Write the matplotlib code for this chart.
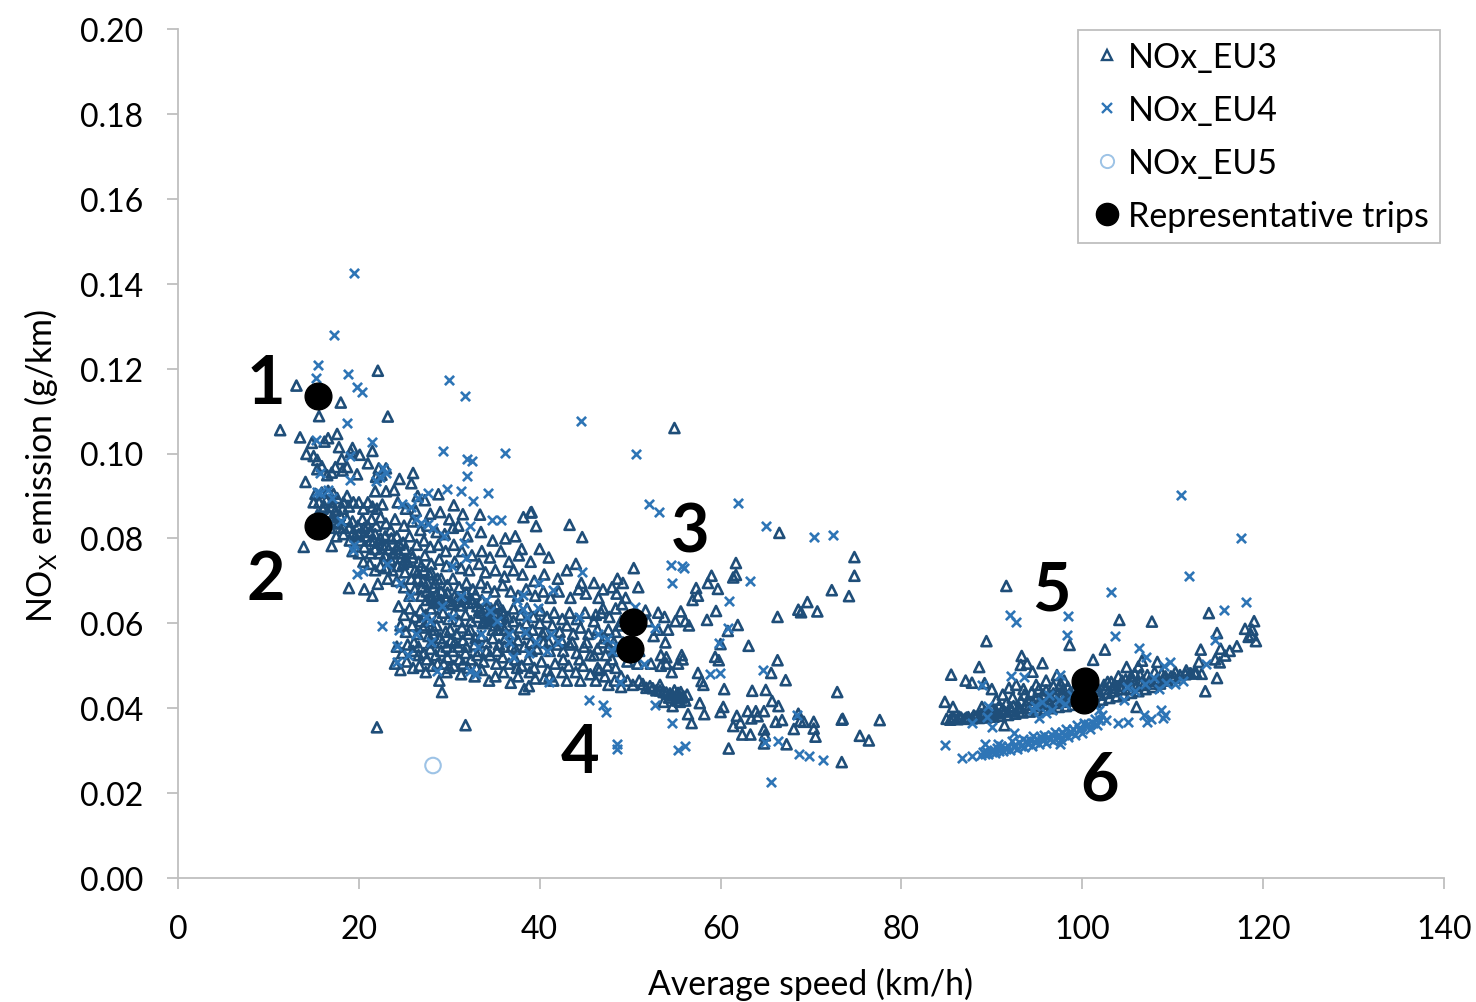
import numpy as np
import matplotlib
matplotlib.use('Agg')
import matplotlib.pyplot as plt
from matplotlib.lines import Line2D

# speed (km/h), NOx (g/km), split by region
eu3_low = [(13.1,.116),(22.1,.1195),(18.0,.112),(15.6,.1088),(23.2,.1087),(11.3,.1055),(13.5,.1038),(17.6,.1046),(16.6,.1036),(16.2,.1028),
    (14.8,.1025),(17.8,.1015),(19.3,.1013),(19.1,.1003),(20.1,.0997),(21.5,.1006),(14.2,.0999),(15.0,.0994),(15.4,.0985),(18.1,.0987),(21.0,.0977),
    (15.4,.0963),(15.9,.097),(17.4,.0968),(18.7,.0968),(18.2,.096),(19.8,.0951),(16.5,.0949),(17.0,.0955),(14.1,.0933),(22.2,.0965),(23.0,.0965),
    (22.5,.095),(21.9,.0945),(26.0,.0954),(24.5,.094),(25.8,.093),(23.9,.0914),(23.0,.0911),(21.8,.0911),(15.2,.0905),(15.9,.0908),(16.6,.0912),(17.2,.0905),
    (15.0,.0885),(15.6,.0885),(16.0,.087),(16.4,.089),(17.0,.0885),(17.6,.0895),(18.3,.0885),(18.7,.09),(18.9,.0875),(19.4,.0885),(20.0,.0885),
    (20.5,.087),(21.0,.0885),(21.5,.0875),(22.0,.087),(22.6,.088),(15.4,.0855),(16.1,.085),(16.6,.086),(17.2,.085),(17.7,.0835),(18.3,.0825),(18.7,.0845),
    (19.3,.084),(19.9,.083),(20.4,.0845),(21.0,.083),(21.4,.0845),(21.9,.083),(22.4,.085),(23.0,.0835),(23.5,.082),(16.8,.0825),(17.5,.0805),(18.3,.081),
    (19.0,.0795),(19.6,.0805),(20.2,.0795),(20.8,.0805),(21.3,.0795),(21.8,.081),(22.4,.08),(23.0,.0785),(23.6,.08),(13.9,.078),(17.0,.0782),(19.3,.077),
    (20.0,.0765),(20.6,.078),(21.3,.0765),(21.8,.0775),(22.3,.0765),(22.9,.076),(23.5,.075),(24.1,.0775),(20.5,.0745),(21.2,.074),(21.8,.0725),(22.4,.0735),
    (23.0,.073),(23.7,.0725),(24.3,.0735),(24.9,.074),(18.9,.0683),(20.6,.068),(21.5,.0665),(22.1,.0693),(23.2,.0705),(24.2,.07),(22.0,.0355),(31.8,.036)]

eu3_mid = [(26.5,.09),(27.3,.089),(28.8,.0904),(30.5,.0878),(31.5,.0857),(33.4,.0856),(38.2,.085),(39.0,.0861),(39.6,.0829),(24.3,.0885),(25.2,.087),(26.3,.0865),
    (27.9,.0858),(29.0,.0862),(30.0,.0845),(31.0,.083),(24.0,.0845),(25.0,.083),(25.9,.084),(26.8,.082),(27.6,.083),(28.6,.0815),(29.5,.081),(30.4,.0825),(32.0,.0805),
    (33.5,.0815),(34.8,.0795),(36.2,.08),(37.3,.0805),(38.0,.0775),(40.0,.0775),(24.2,.0805),(24.9,.079),(25.6,.0805),(26.4,.0785),(27.2,.0795),(27.9,.078),(28.8,.0785),
    (29.6,.077),(30.5,.0785),(31.4,.077),(32.5,.076),(33.6,.077),(34.5,.0755),(35.7,.077),(36.6,.0745),(37.7,.076),(39.0,.0745),(41.0,.0755),(24.4,.0765),(25.1,.075),(25.8,.0765),
    (26.6,.0745),(27.3,.076),(28.0,.074),(28.9,.075),(29.7,.0735),(30.6,.0745),(31.3,.073),(32.2,.0725),(33.3,.074),(34.0,.072),(35.1,.0725),(36.1,.071),(37.1,.0725),(38.1,.0715),
    (39.4,.07),(40.5,.0715),(42.0,.0705),(43.0,.0725),(44.0,.074),(44.6,.0695),(25.1,.072),(25.8,.0705),(26.5,.072),(27.1,.07),(27.8,.0715),(28.4,.0695),(29.1,.0705),(29.8,.069),
    (30.4,.0705),(31.1,.0685),(31.9,.0695),(32.6,.068),(33.5,.0695),(34.2,.0685),(35.0,.0675),(35.9,.069),(36.8,.0675),(37.6,.0665),(38.5,.068),(39.5,.0665),(40.4,.0675),(41.2,.066),
    (42.1,.0675),(43.4,.066),(44.3,.068),(45.1,.067),(46.0,.0695),(47.0,.068),(48.6,.0705),(49.2,.0695),(49.5,.066),(25.0,.0685),(25.6,.0665),(26.2,.068),(26.9,.0665),(27.5,.0675),(28.1,.066),
    (28.6,.0668),(29.1,.0655),(29.6,.0662),(30.1,.0652),(30.6,.0664),(31.1,.0652),(31.6,.066),(32.1,.0648),(32.6,.065),(33.1,.064),(33.6,.0655),(34.1,.0645),(34.6,.0635),(35.0,.0625),
    (35.4,.0645),(35.9,.063),(36.5,.0615),(37.1,.0635),(37.9,.062),(38.6,.0635),(39.3,.0615),(40.1,.063),(40.8,.0615),(41.6,.0625),(42.5,.061),(43.3,.0625),(44.1,.061),(45.0,.0625),
    (46.0,.0605),(46.8,.0625),(47.7,.0615),(48.4,.0635),(49.0,.0605),(50.5,.0625),(51.7,.063),(53.1,.0625),(24.4,.064),(25.0,.062),(25.6,.0635),(26.2,.0615),(26.8,.063),(27.4,.062),(28.0,.0635),
    (28.7,.0615),(29.3,.0625),(29.9,.061),(30.5,.0625),(31.1,.0605),(31.8,.062),(32.4,.0605),(33.1,.0615),(33.7,.06),(34.4,.061),(35.0,.0595),(35.7,.061),(36.4,.0595),(37.1,.0605),(37.8,.059),
    (38.5,.06),(39.2,.0585),(40.0,.06),(40.6,.058),(41.4,.0595),(42.2,.058),(43.0,.0595),(43.7,.0575),(44.5,.059),(45.4,.0575),(46.4,.0585),(47.2,.0565),(48.4,.058),(52.0,.0605),(53.8,.0615),
    (24.6,.0595),(25.2,.058),(25.9,.0595),(26.5,.0575),(27.1,.059),(27.7,.057),(28.3,.0585),(29.0,.0565),(29.6,.058),(30.2,.056),(30.8,.0575),(31.5,.056),(32.1,.0575),(32.8,.055),(33.5,.057),
    (34.1,.0555),(34.8,.0565),(35.5,.055),(36.2,.0565),(36.9,.0545),(37.6,.056),(38.3,.0545),(39.0,.0555),(39.7,.054),(40.4,.0555),(41.1,.0535),(41.9,.055),(42.6,.0535),(43.3,.055),(44.1,.053),
    (44.9,.0545),(45.6,.0525),(46.4,.054),(47.3,.0525),(48.0,.0515),(24.2,.0545),(24.8,.053),(25.4,.055),(26.0,.0535),(26.6,.0545),(27.2,.053),(27.9,.054),(28.5,.0525),(29.1,.0535),(29.8,.052),
    (30.4,.0535),(31.1,.0515),(31.8,.053),(32.4,.0515),(33.1,.0525),(33.8,.051),(34.5,.0525),(35.2,.0505),(35.9,.052),(36.6,.0505),(37.3,.0515),(38.0,.05),(38.7,.0515),(39.4,.0495),(40.2,.051),
    (40.9,.049),(41.7,.0505),(42.5,.0485),(43.2,.05),(44.0,.0485),(44.8,.05),(45.6,.048),(46.4,.0495),(47.2,.0475),(24.0,.0505),(24.6,.049),(25.3,.051),(26.0,.0495),(26.7,.05),(27.4,.0485),(28.1,.05),
    (28.9,.0465),(29.2,.0438),(29.7,.0485),(30.5,.05),(31.3,.048),(32.1,.0495),(32.8,.0475),(33.6,.049),(34.4,.0465),(35.1,.0475),(36.0,.0485),(36.8,.046),(37.6,.0475),(38.3,.0445),(38.8,.0452),
    (39.5,.047),(40.5,.047),(41.5,.0465),(43.0,.0465),(44.5,.0465),(46.2,.0465)]

# the darkest patches of the cloud, where triangles pile up
eu3_dense = [(17.0,.0875),(17.4,.0865),(17.9,.0855),(18.2,.087),(16.2,.0875),(16.7,.0838),(17.3,.0838),(18.9,.0825),(19.4,.0815),(20.0,.081),(20.6,.0825),(21.2,.0815),(21.7,.0795),(22.1,.079),(22.6,.0785),
    (22.9,.0805),(23.3,.0775),(23.8,.0765),(24.5,.0785),(24.7,.0755),(25.1,.0775),(25.4,.0745),(25.9,.0755),(26.2,.0725),(26.5,.0705),(26.9,.0735),(27.2,.0725),(27.6,.0695),(28.0,.072),(28.3,.0685),
    (28.7,.0705),(29.1,.0675),(27.0,.0685),(27.5,.0655),(27.9,.0665),(28.4,.0648),(28.8,.0652),(29.3,.0645),(29.8,.0672),(30.3,.0645),(30.8,.0655),(31.4,.0642),(31.9,.0672),(32.3,.0658),(32.9,.0668),
    (33.3,.063),(33.9,.0635),(34.3,.062),(34.7,.0615),(35.2,.064),(35.6,.0605),(36.0,.062),(33.6,.0625),(34.0,.0605),(34.9,.0608),(35.4,.0585),(26.8,.0605),(27.3,.0595),(27.7,.0605),(28.2,.0575),(28.6,.0595),
    (29.2,.0555),(29.7,.0545),(30.1,.0585),(30.6,.0555),(31.0,.0545),(31.4,.059),(31.9,.0545),(32.3,.0585),(32.9,.0565),(33.3,.0535),(26.1,.0555),(26.6,.0525),(27.5,.0515),(28.0,.0555),(28.7,.0505),(29.4,.0505),
    (30.0,.0495),(31.5,.0505),(33.0,.0495),(34.1,.0535),(34.8,.0585),(35.3,.0535),(36.1,.0545),(37.3,.054),(38.7,.0575),(39.1,.0535),(40.3,.0575),(41.0,.0555),(42.4,.056),(43.6,.0555),(37.0,.0575),(36.1,.0585),
    (37.5,.0495),(38.9,.0485),(41.1,.0475),(42.6,.0515),(44.4,.0515),(45.2,.0555),(46.0,.0525),(46.9,.0555),(47.7,.0545),(48.2,.0555),(48.7,.0535),(49.2,.0555),(47.6,.0585),(48.9,.0595),(46.2,.062)]

eu3_streak = [(47.6,.0455),(48.3,.0465),(49.0,.045),(49.7,.0465),(50.3,.0455),(51.0,.0465),(51.4,.0457),(51.8,.0448),(52.2,.0452),(52.5,.0447),(52.9,.0442),(53.3,.0442),(53.7,.0438),(54.0,.0437),
    (54.4,.0435),(54.7,.043),(55.1,.0431),(55.4,.0425),(55.6,.0438),(55.9,.0428),(56.1,.0418),(56.3,.0432),(55.5,.0415),(54.7,.0405),(53.7,.0415),(49.7,.051),(50.8,.0505),(52.3,.0505),(53.4,.05),
    (54.0,.0505),(54.6,.0485),(55.3,.0505),(49.0,.0475),(47.5,.05),(46.6,.049),(48.4,.0495),(51.0,.0535),(53.4,.0525),(54.0,.052),(55.8,.0515),(54.9,.0442),(55.3,.0436),(55.7,.0425),(55.2,.0418),(54.3,.0425),(53.3,.0455)]

eu3_sparse = [(54.9,.106),(66.5,.0813),(43.3,.0832),(44.7,.0803),(39.1,.0862),(74.8,.0756),(74.8,.0712),(72.3,.0678),(74.2,.0664),(69.6,.065),(68.6,.0632),(68.9,.0626),(70.7,.0628),(66.3,.0615),
    (61.7,.0742),(61.7,.0714),(61.4,.0708),(59.0,.0712),(58.6,.0695),(59.7,.0681),(57.3,.0683),(57.5,.0665),(56.9,.0655),(59.5,.0629),(58.5,.0608),(61.9,.0596),(60.8,.0582),(63.1,.0547),
    (60.0,.0551),(66.3,.0513),(59.4,.0521),(59.8,.0513),(65.6,.0483),(67.2,.0466),(63.5,.0441),(65.0,.0443),(72.9,.0438),(60.4,.0445),(57.9,.0464),(58.1,.0455),(57.5,.0483),(65.7,.0417),(66.4,.0405),
    (60.3,.0403),(57.7,.0412),(60.0,.0391),(58.2,.0386),(56.4,.0386),(56.8,.0365),(61.8,.0382),(61.4,.0358),(62.2,.0366),(63.0,.0393),(63.9,.0393),(64.8,.0393),(63.4,.0376),(64.1,.0381),(66.1,.0368),
    (66.8,.0372),(68.6,.0387),(68.8,.037),(69.2,.0368),(70.3,.0368),(68.1,.0351),(70.3,.0352),(73.4,.0373),(73.5,.0375),(77.6,.0372),(64.8,.035),(62.4,.0338),(63.3,.0338),(70.5,.0333),(64.9,.0336),
    (64.8,.0317),(67.3,.0315),(75.4,.0335),(76.4,.0324),(60.9,.0305),(73.4,.0273),(56.5,.0595),(55.6,.0628),(55.0,.0605),(54.2,.0585),(56.1,.0605),(53.1,.0585),(53.9,.0555),(55.7,.0525),(50.9,.0605),
    (52.6,.057),(50.9,.0685),(50.4,.073),(48.0,.0685),(48.5,.067),(47.0,.0635),(46.5,.066),(49.1,.0645)]

eu3_high = [(91.6,.0688),(89.4,.0558),(98.6,.0549),(104.1,.0608),(107.7,.0604),(114.0,.0624),(102.5,.0538),(101.2,.0514),(93.3,.0523),(93.9,.0505),(93.2,.0502),(95.6,.0506),(94.5,.0486),
    (88.6,.0497),(85.5,.0479),(87.1,.0465),(87.8,.046),(84.8,.0415),(85.7,.0403),(88.9,.0403),(89.2,.0459),(90.0,.0445),(91.4,.036),(106.0,.0403),(113.6,.044),(114.9,.0471),(113.1,.0538),(114.9,.0577),
    (115.3,.054),(117.1,.0546),(118.0,.0587),(119.0,.0605),(118.8,.0585),(119.2,.0558),(118.4,.0568),(118.7,.0572),(112.9,.0509),(113.2,.0481),(116.3,.0535),(115.8,.0524),(115.2,.0508),(114.7,.0515),
    (108.3,.0509),(110.3,.0485),(111.5,.0489),(111.9,.0482),(112.4,.0485),(106.6,.0512),(106.2,.0498),(104.9,.0497),(105.4,.0475),(105.8,.0482),(97.2,.0478),(98.0,.0465),(96.0,.0465),(94.9,.0455),
    (92.7,.0455),(91.9,.0448),(93.5,.0445),(91.2,.0432),(92.3,.0425),(90.5,.042),(96.8,.0452),(97.9,.0445),(99.0,.044),(102.8,.0462),(103.6,.0455),(104.4,.0465),(101.4,.0445),
    # dense band
    (85.0,.0375),(85.4,.0373),(85.8,.0378),(86.2,.0374),(86.6,.0378),(87.0,.0375),(87.4,.0379),(87.8,.0376),(88.2,.038),(88.6,.0377),(89.0,.0382),(89.4,.0378),(89.8,.0384),(90.2,.038),(90.6,.0388),
    (91.0,.0382),(91.4,.0392),(91.8,.0384),(92.2,.0396),(92.6,.0387),(93.0,.0402),(93.4,.039),(93.8,.0408),(94.2,.0392),(94.6,.0412),(95.0,.0395),(95.4,.0418),(95.8,.0398),(96.2,.0422),(96.6,.04),
    (97.0,.0428),(97.4,.0403),(97.8,.0432),(98.2,.0405),(98.6,.0435),(99.0,.0408),(99.4,.0438),(99.8,.041),(100.2,.0432),(100.6,.0412),(101.0,.0436),(101.4,.0415),(101.8,.044),(102.2,.042),(102.6,.0445),
    (103.0,.0424),(103.4,.0448),(103.8,.0428),(104.2,.0452),(104.6,.0432),(105.0,.0455),(105.4,.0436),(105.8,.0458),(106.2,.044),(106.6,.0462),(107.0,.0445),(107.4,.0465),(107.8,.045),(108.2,.0468),
    (108.6,.0458),(109.0,.0472),(109.4,.0465),(109.8,.0475),(110.2,.0472),(110.8,.0478),(111.4,.048),(112.0,.0482),(112.6,.0483),
    # wedge over the band
    (89.2,.0392),(90.0,.0398),(90.8,.0405),(91.6,.0412),(92.4,.0405),(93.2,.0418),(93.6,.0432),(94.0,.042),(94.4,.0438),(94.8,.0425),(95.2,.0445),(95.6,.0432),(96.0,.0442),(96.4,.0412),(96.8,.0435),(97.2,.0418),
    (97.6,.0458),(98.0,.0425),(98.4,.045),(98.8,.0422),(99.2,.0448),(99.6,.0425),(100.0,.0445),(100.4,.042),(100.8,.0448),(101.2,.0428),(101.6,.0452),(102.0,.0432),(102.4,.0455),(102.8,.0436),(103.2,.0462),
    (103.6,.044),(104.0,.0475),(104.4,.0445),(104.8,.0468),(105.2,.0445),(105.6,.0468),(106.0,.0452),(106.4,.0478),(106.8,.0455),(107.2,.0478),(107.6,.0458),(108.0,.0485),(108.4,.0465),(108.8,.0482),(109.2,.0475),
    (93.0,.0392),(94.0,.04),(95.0,.0405),(96.0,.041),(97.0,.0412),(98.0,.0415),(99.0,.0418),(85.6,.0378),(86.4,.038),(87.2,.0378),(88.0,.0383),(88.8,.0386),(89.6,.039),(90.4,.0394),(91.2,.0398),(92.0,.0402)]

eu4_low = [(15.5,.1208),(15.3,.1178),(18.8,.1187),(19.8,.1156),(20.3,.1146),(30.0,.1174),(31.7,.1135),(18.7,.1072),(21.5,.1027),(29.3,.1007),(36.2,.1001),(32.0,.0987),(32.5,.0983),(32.0,.0947),
    (29.7,.0916),(31.3,.0911),(34.3,.0907),(32.6,.0889),(27.6,.0908),(24.8,.0881),(25.8,.0875),(34.7,.0843),(35.7,.0843),(32.3,.083),(28.2,.0825),(26.9,.0837),(22.7,.0965),(15.3,.1031),(15.7,.0955),
    (19.0,.0993),(19.0,.0938),(15.7,.0907),(18.0,.0842),(19.5,.0785),(19.3,.0773),(19.8,.0716),(20.5,.0724),(22.6,.0594),(24.4,.0585),(24.2,.0547),(24.2,.0508),(33.0,.048),(32.3,.0488),(28.6,.0488),
    (39.8,.0636),(38.2,.0666),(38.2,.0633),(17.3,.128),(19.5,.1425),(15.4,.091),(16.6,.0915),(17.0,.0895),(21.9,.0935),(22.3,.0945),(23.0,.0955),(26.5,.0895),(26.3,.0845),(27.7,.0835),(29.4,.0805),
    (31.6,.079),(31.9,.0755),(30.3,.0735),(24.5,.0695),(23.1,.074),(25.7,.0665),(27.4,.0615),(29.2,.064),(31.3,.0665),(30.3,.0615),(28.0,.0555),(26.3,.0575),(27.9,.0605),(25.4,.0525),(33.5,.0575),(34.5,.063),
    (34.1,.0655),(36.6,.0575),(35.3,.0605),(37.5,.0655),(38.8,.053),(37.0,.052),(41.3,.0575),(40.8,.0535),(36.6,.0555),(33.2,.0545)]

eu4_mid = [(44.6,.1077),(50.7,.0999),(52.1,.0881),(53.2,.0862),(61.9,.0883),(65.0,.0829),(70.3,.0804),(72.4,.0808),(63.3,.0699),(60.9,.0653),(54.5,.0737),(56.0,.073),(55.7,.0735),(54.6,.0695),(44.7,.072),
    (39.9,.0696),(41.5,.0679),(50.5,.0639),(52.8,.0588),(60.8,.0589),(59.8,.0553),(64.7,.049),(58.8,.048),(59.9,.0482),(68.5,.0384),(64.9,.0321),(66.3,.0323),(68.7,.0293),(69.8,.0287),(71.3,.0277),
    (65.6,.0226),(55.3,.0302),(56.1,.031),(48.6,.0316),(48.5,.0303),(54.6,.0365),(52.8,.0408),(45.5,.042),(47.0,.0408),(47.3,.0392),(41.0,.0462),(48.9,.0461),(51.5,.0504),(47.4,.0563),(48.4,.055),
    (38.6,.0615),(48.0,.0535),(39.6,.0555),(42.0,.0555),(44.3,.0615),(46.5,.0575),(38.4,.058)]

eu4_high = [(110.9,.0902),(117.6,.0801),(111.8,.0712),(103.2,.0674),(118.1,.0651),(115.7,.0632),(92.0,.062),(92.7,.0602),(98.4,.0617),(98.3,.0573),(103.6,.0571),(114.7,.0561),(106.3,.0542),(107.1,.052),
    (109.7,.0509),(109.0,.05),(113.7,.0504),(92.1,.0476),(93.6,.0473),(88.9,.0455),(97.5,.0479),(84.8,.0313),(86.7,.0283),(87.8,.0287),(89.0,.0297),(89.2,.0316),(90.7,.0316),(92.4,.0342),(97.5,.0316),
    (87.8,.0365),(90.0,.0356),(89.5,.038),(89.6,.0406),(94.8,.0405),(95.5,.0415),(96.3,.043),(96.6,.0395),(97.4,.042),(98.1,.041),(98.9,.043),(99.4,.0415),(96.0,.0388),(94.6,.0395),(95.2,.0378),
    (102.6,.0372),(103.9,.0365),(105.0,.0368),(106.8,.0385),(107.6,.0375),(107.2,.0368),(108.7,.0395),(109.2,.0385),(108.9,.0378),(104.6,.042),(105.8,.044),(106.9,.0458),(107.9,.047),(108.5,.0445),
    (109.3,.046),(110.3,.0458),(111.1,.0465),(104.9,.045),(100.7,.0415),(101.9,.0395),
    # lower band
    (88.8,.029),(89.2,.0293),(89.6,.0292),(90.0,.0297),(90.4,.0295),(90.8,.03),(91.2,.0298),(91.6,.0304),(92.0,.0301),(92.4,.0308),(92.8,.0304),(93.2,.0312),(93.6,.0308),(94.0,.0316),(94.4,.0311),
    (94.8,.032),(95.2,.0315),(95.6,.0324),(96.0,.0318),(96.4,.0328),(96.8,.0322),(97.2,.0333),(97.6,.0326),(98.0,.0338),(98.4,.0331),(98.8,.0344),(99.2,.0336),(99.6,.035),(100.0,.0342),(100.4,.0358),
    (100.8,.0352),(101.2,.0366),(101.6,.036),(102.0,.0372),(91.0,.0312),(92.2,.0322),(93.4,.0328),(94.6,.0335),(95.8,.0338),(97.0,.0345),(98.2,.0352),(99.4,.036),
    (89.4,.0298),(90.2,.0302),(91.4,.0306),(92.6,.0314),(93.8,.0322),(95.0,.0328),(96.2,.0332),(97.4,.0338),(98.6,.0344),(99.8,.0352),(100.2,.0366),(90.6,.0306),(91.8,.0312),(93.0,.032),(94.2,.0326),(95.4,.0332),
    (96.6,.0336),(97.8,.0344),(99.0,.035),(100.6,.0362),(101.4,.0375),(102.2,.0385)]

eu5 = [(28.2,.0265)]
trips = [(15.5,.1135),(15.5,.083),(50.3,.0602),(50.0,.054),(100.3,.0465),(100.2,.042)]

trip_labels = ['1', '2', '3', '4', '5', '6']
trip_label_x = [9.7, 9.7, 56.6, 44.5, 96.6, 101.9]
trip_label_y = [.1164, .0702, .0814, .0294, .0677, .0229]

x_ticks = [0, 20, 40, 60, 80, 100, 120, 140]
y_ticks = [0.00, 0.02, 0.04, 0.06, 0.08, 0.10, 0.12, 0.14, 0.16, 0.18, 0.20]

plt.rcParams['font.family'] = ['Lato', 'DejaVu Sans']
plt.rcParams['mathtext.fontset'] = 'custom'
plt.rcParams['mathtext.rm'] = 'Lato'

navy = '#1f4e79'
blue = '#2e75b6'
pale = '#9dc3e6'
gray = '#bfbfbf'

fig = plt.figure(figsize=(14.76, 10.03), dpi=100)
ax = fig.add_axes([178 / 1476, 1 - 879 / 1003, 1266 / 1476, 849 / 1003])

eu3 = np.array(eu3_low + eu3_mid + eu3_dense + eu3_streak + eu3_sparse + eu3_high)
eu4 = np.array(eu4_low + eu4_mid + eu4_high)
ax.scatter(eu3[:, 0], eu3[:, 1], marker='^', s=52, facecolors='none', edgecolors=navy, linewidths=1.9, clip_on=False)
ax.scatter(eu4[:, 0], eu4[:, 1], marker='x', s=44, color=blue, linewidths=1.9, clip_on=False)
p5 = np.array(eu5)
ax.scatter(p5[:, 0], p5[:, 1], marker='o', s=125, facecolors='none', edgecolors=pale, linewidths=1.5)
tr = np.array(trips)
ax.scatter(tr[:, 0], tr[:, 1], marker='o', s=370, color='black', zorder=5)

for lab, lx, ly in zip(trip_labels, trip_label_x, trip_label_y):
    ax.text(lx, ly, lab, fontsize=48, fontweight='bold', color='black', ha='center', va='center', zorder=6)

ax.set_xlim(0, 140)
ax.set_ylim(0, 0.20)
ax.set_xticks(x_ticks)
ax.set_yticks(y_ticks)
ax.set_yticklabels(['%.2f' % v for v in y_ticks])
ax.tick_params(axis='both', labelsize=23, length=8, width=1.3, color=gray, labelcolor='black')
ax.tick_params(axis='x', pad=18)
ax.tick_params(axis='y', pad=17)
for side in ['top', 'right']:
    ax.spines[side].set_visible(False)
for side in ['left', 'bottom']:
    ax.spines[side].set_color(gray)
    ax.spines[side].set_linewidth(1.3)

fig.text(810 / 1476, 1 - 984 / 1003, 'Average speed (km/h)', fontsize=24.3, ha='center', va='center')
fig.text(41 / 1476, 1 - 466 / 1003, r'NO$_{\mathrm{X}}$ emission (g/km)', fontsize=24.5, rotation=90, ha='center', va='center')

handles = [
    Line2D([], [], ls='none', marker='^', ms=7, mfc='none', mec=navy, mew=1.7, label='NOx_EU3'),
    Line2D([], [], ls='none', marker='x', ms=7, color=blue, mew=1.7, label='NOx_EU4'),
    Line2D([], [], ls='none', marker='o', ms=9.5, mfc='none', mec=pale, mew=1.4, label='NOx_EU5'),
    Line2D([], [], ls='none', marker='o', ms=16, color='black', label='Representative trips'),
]
leg = ax.legend(handles=handles, loc='upper left', bbox_to_anchor=(1078 / 1476, 1 - 31 / 1003),
                bbox_transform=fig.transFigure, fontsize=24.5, frameon=True, fancybox=False,
                edgecolor=gray, framealpha=1, borderpad=0.32, labelspacing=0.62,
                handletextpad=0.08, handlelength=1.07, borderaxespad=0)
leg.get_frame().set_linewidth(1.3)

fig.savefig('out.png', dpi=100)
